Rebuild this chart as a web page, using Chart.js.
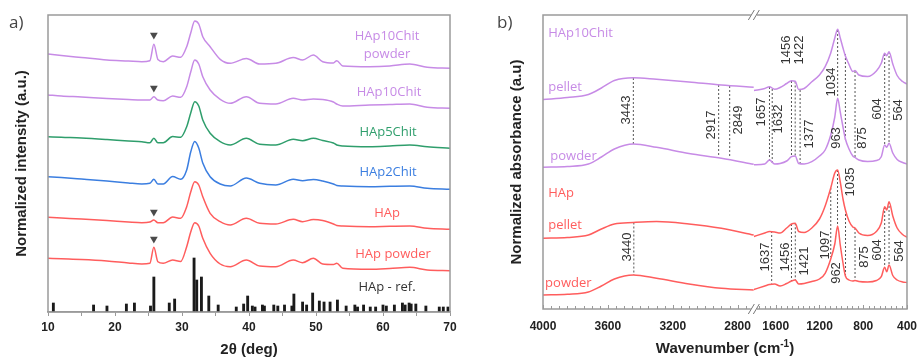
<!DOCTYPE html>
<html>
<head>
<meta charset="utf-8">
<script src="https://cdn.jsdelivr.net/npm/chart.js@4.4.1/dist/chart.umd.min.js"></script>
<style>
  html, body { margin: 0; padding: 0; background: #fff; }
  body { width: 919px; height: 359px; position: relative; overflow: hidden; }
  .panel { position: absolute; top: 0; height: 359px; }
  #xrd-wrap { left: 0; width: 470px; }
  #ftir-wrap { left: 460px; width: 459px; }
  .tag { position: absolute; font-family: 'Open Sans', sans-serif; font-size: 17px; line-height: 20px; color: #444; }
</style>
</head>
<body>
<div class="panel" id="xrd-wrap"><canvas id="xrd"></canvas></div>
<div class="panel" id="ftir-wrap"><canvas id="ftir"></canvas></div>
<div class="tag" style="left:9px; top:12px;">a)</div>
<div class="tag" style="left:497px; top:12px;">b)</div>
<script>
// ---- XRD patterns (panel a), stacked with offsets, a.u. ----
var twoTheta = [10, 12, 15, 18.8, 22, 24, 25.2, 25.8, 26.4, 27.2, 28.6, 29.8, 30.7, 31.3, 31.9, 32.5, 33.1, 34.2, 35.7, 37.2,
                39.6, 41.6, 44, 46.6, 48, 49.6, 51, 52.6, 53.1, 54, 58, 61, 64, 66.6, 70];
var xrdChit10Powder = [258, 256.5, 254.5, 252, 251, 250.3, 251.3, 267.7, 252.5, 250.3, 256, 254.7, 265.3, 279, 291, 288, 275.3, 265.3, 252.7, 248.7,
                       253.5, 248, 248.7, 254.5, 252, 257, 250.3, 249, 251.3, 246, 245.3, 246, 248, 244.7, 243.7];
var xrdChit10 = [217, 216, 215, 213.5, 212.5, 212, 212, 215.3, 212, 211.3, 216, 214.7, 225.3, 240, 252, 248, 235.3, 222, 212.7, 208.7,
                 215.3, 208.7, 208, 213.7, 212, 213, 212.5, 210, 208, 206, 207, 207.5, 208, 204.7, 203.7];
var xrdChit5 = [175.3, 174.7, 174, 172.5, 171, 170.3, 169.3, 173.7, 169.3, 169.3, 175.5, 174.7, 185.3, 199, 210.3, 206, 192, 178.7, 170.3, 167,
                173.7, 167.7, 167, 172.7, 171.3, 173.7, 171.5, 169, 167, 166, 165.3, 166, 167, 165.3, 163.7];
var xrdChit2 = [135.3, 134.5, 133, 131, 129, 128, 128.7, 132.7, 128, 128, 135.5, 132.7, 142, 160, 170.5, 164, 149, 135.3, 128, 126,
                134, 128.7, 127, 132.7, 131.3, 132.5, 131, 128, 126.5, 126, 125.3, 125.7, 126, 123.7, 122.7];
var xrdHap = [94.7, 94, 93, 91.5, 90, 89.3, 90, 92, 89.3, 89.3, 95, 93.7, 105.3, 120, 130.3, 127, 115.3, 98.7, 90.3, 87,
              93.7, 88.7, 88, 92.7, 90.3, 92.5, 91.5, 88, 86.5, 86, 85.3, 85.7, 86, 83.7, 82.7];
var xrdHapPowder = [53.7, 53.2, 52.5, 51, 49, 48, 48.7, 64.7, 50.3, 48.7, 52, 50.5, 65.3, 80, 89.3, 86, 73.7, 58.7, 48, 45.3,
                    52, 46, 45.3, 52, 49.3, 53.7, 48, 47.5, 48.7, 43.7, 42.7, 43.5, 44.7, 42, 41.3];

// reference HAp pattern (stick positions and heights)
var refPeaks2Theta = [10.8, 16.8, 18.8, 21.7, 22.9, 25.3, 25.8, 28.1, 28.9, 31.8, 32.2, 32.9, 34.0, 35.4, 38.1, 39.2, 39.8, 40.5, 40.9, 42.0,
                      42.3, 43.7, 44.3, 45.3, 46.4, 46.7, 48.0, 48.6, 49.5, 50.5, 51.2, 52.1, 53.2, 54.5, 55.8, 56.2, 57.1, 58.1, 58.9, 60.0,
                      60.5, 61.7, 62.9, 63.3, 63.9, 64.2, 64.9, 66.4, 68.4, 69.0, 69.7];
var refPeakHeights = [9, 7, 6, 8, 9, 6, 35, 9, 13, 54, 32, 35, 16, 7, 5, 8, 16, 6, 5, 7,
                      6, 7, 6, 7, 6, 18, 10, 7, 19, 11, 10, 10, 12, 6, 7, 5, 7, 5, 5, 7,
                      6, 7, 9, 7, 9, 8, 8, 6, 5, 5, 5];

// calcite-type reflection markers
var markTwoTheta = [25.8, 25.8, 25.8, 25.8];
var markLevels = [277, 224, 100, 73];
var twoThetaTicks = [10, 20, 30, 40, 50, 60, 70];

// ---- FTIR spectra (panel b), broken wavenumber axis ----
var wnLeft = [4000, 3850, 3720, 3640, 3560, 3443, 3300, 3100, 2900, 2700];
var chitPelletL = [209.5, 211.5, 214.5, 221, 228.5, 231.3, 229.7, 227, 224, 221.7];
var chitPowderL = [141.7, 142.5, 145, 152, 160, 165, 161.7, 155.5, 150.7, 144.7];
var hapPelletL = [70.7, 71.5, 74, 80, 85, 86.5, 87.5, 85, 80.7, 74];
var hapPowderL = [14, 14.7, 17, 23, 30, 34, 30.7, 25, 20.7, 19];

var wnRight = [1800, 1700, 1657, 1610, 1560, 1500, 1456, 1422, 1390, 1340, 1270, 1200, 1148, 1097, 1060, 1034, 1010, 985, 963, 930,
               895, 875, 840, 760, 680, 635, 604, 585, 564, 530, 490, 440, 400];
var chitPelletR = [218.5, 220.5, 222.3, 219.7, 221.5, 225.5, 228.3, 227.7, 219.5, 220.5, 227.3, 234, 242.3, 256, 271, 279.7, 271, 261, 253, 244.5,
                   237.5, 238.5, 234, 232.5, 238, 245.7, 255.7, 253.3, 257.3, 245, 233.5, 227.5, 225];
var chitPowderR = [144.3, 145, 149, 145, 145.5, 148, 152.3, 153, 145.5, 145, 147.3, 153, 159, 174, 192, 210.7, 197, 182, 170, 160,
                   153, 151.5, 149, 147.5, 148.5, 152.3, 164, 161.7, 165.7, 156, 149.5, 146.5, 145];
var hapPelletR = [72.5, 76, 77.5, 77, 76, 81, 85, 85.7, 77.5, 76.5, 81, 90, 103, 121, 136, 139, 127, 110, 99, 88,
                  82, 81, 76, 73.5, 77.5, 86, 102.3, 99, 107.3, 93, 81, 74.5, 71.7];
var hapPowderR = [19.5, 23, 24.5, 25, 23, 25.5, 28, 29, 25, 25.5, 27.5, 30, 35.7, 50, 65, 83, 64, 46, 33, 29,
                  28, 28.5, 27.5, 27, 28.5, 32.3, 41.7, 37.3, 44, 33.5, 29, 27, 26.5];

// band assignments: wavenumber, dashed guide from pellet trace down to powder trace
var chitBands = [3443, 2917, 2849, 1657, 1632, 1456, 1422, 1377, 1034, 963, 875, 604, 564];
var chitBandTop = [231, 224, 223, 222, 220, 228, 227.5, 219, 279, 255, 238, 255, 257];
var chitBandBottom = [165, 152, 151, 147, 146, 152, 153, 145.5, 210.7, 168, 151, 164, 165.5];
var hapBands = [3440, 1637, 1456, 1421, 1097, 1035, 962, 875, 604, 564];
var hapBandTop = [86.5, 78, 85, 85.7, 121, 139, 99, 81, 102, 107];
var hapBandBottom = [34, 25.5, 28, 29, 52, 83, 33, 28.5, 41.7, 44];
var wnTicksLeft = [4000, 3600, 3200, 2800];
var wnTicksRight = [1600, 1200, 800, 400];

// ---- styling ----
var violet = '#c78be6', green = '#2f9e6c', blue = '#3b7ee0', red = '#ff5d5d';
var ink = '#222222', frameGrey = '#9a9a9a', guideGrey = '#555555';
var numFont = "'Liberation Sans', Arial, sans-serif";
var tagFont = "'Open Sans', sans-serif";

// where band numbers sit: label height (a.u.) and horizontal nudge (px)
var chitLabelY = [199, 184, 189, 197, 190, 259, 259, 175, 227, 171, 171, 200, 199];
var chitLabelDx = [-7, -7, 9, -8, 6, -5, 4, 9, -6, -9, 7, -7, 9];
var hapLabelY = [62, 52, 52, 48, 64, 127, 36, 52, 59, 58];
var hapLabelDx = [-6, -6, -6, 9, -5, 13, -9, 9, -7, 10];

function pts(xs, ys) {
  return xs.map(function (x, i) { return { x: x, y: ys[i] }; });
}

function trace(data, color, xAxisID) {
  return {
    type: 'line', data: data, xAxisID: xAxisID || 'x', yAxisID: 'y',
    borderColor: color, borderWidth: 1.5, pointRadius: 0,
    cubicInterpolationMode: 'monotone', fill: false
  };
}

// box around the plot area
var framePlugin = {
  id: 'frame',
  afterDatasetsDraw: function (chart) {
    var a = chart.chartArea, ctx = chart.ctx;
    ctx.save();
    ctx.strokeStyle = frameGrey;
    ctx.lineWidth = 1.5;
    ctx.strokeRect(a.left, a.top, a.right - a.left, a.bottom - a.top);
    ctx.restore();
  }
};

// ---------------- panel a ----------------
var xrdSeries = [
  { values: xrdChit10Powder, color: violet },
  { values: xrdChit10, color: violet },
  { values: xrdChit5, color: green },
  { values: xrdChit2, color: blue },
  { values: xrdHap, color: red },
  { values: xrdHapPowder, color: red }
];

var xrdTags = [
  { text: 'HAp10Chit', x: 60.6, y: 276, color: violet },
  { text: 'powder', x: 60.6, y: 258, color: violet },
  { text: 'HAp10Chit', x: 60.9, y: 220, color: violet },
  { text: 'HAp5Chit', x: 60.75, y: 180, color: green },
  { text: 'HAp2Chit', x: 60.75, y: 140, color: blue },
  { text: 'HAp', x: 60.6, y: 99, color: red },
  { text: 'HAp powder', x: 61.5, y: 58, color: red },
  { text: 'HAp - ref.', x: 60.6, y: 25, color: '#333' }
];

var xrdDatasets = xrdSeries.map(function (s) { return trace(pts(twoTheta, s.values), s.color); });
xrdDatasets.push({
  type: 'bar', data: pts(refPeaks2Theta, refPeakHeights),
  backgroundColor: '#1a1a1a', barThickness: 2.2, grouped: false
});
xrdDatasets.push({
  type: 'line', data: pts(markTwoTheta, markLevels), showLine: false,
  pointStyle: 'triangle', rotation: 180, pointRadius: 4.5,
  pointBackgroundColor: '#4a4a4a', pointBorderColor: '#4a4a4a', pointBorderWidth: 0
});

var xrdTagPlugin = {
  id: 'xrdTags',
  afterDatasetsDraw: function (chart) {
    var ctx = chart.ctx, sx = chart.scales.x, sy = chart.scales.y;
    ctx.save();
    ctx.font = '13px ' + tagFont;
    ctx.textAlign = 'center';
    ctx.textBaseline = 'middle';
    xrdTags.forEach(function (t) {
      ctx.fillStyle = t.color;
      ctx.fillText(t.text, sx.getPixelForValue(t.x), sy.getPixelForValue(t.y));
    });
    ctx.restore();
  }
};

new Chart(document.getElementById('xrd'), {
  type: 'line',
  data: { datasets: xrdDatasets },
  options: {
    animation: false, responsive: true, maintainAspectRatio: false, events: [],
    layout: { padding: { left: 0, top: 15, right: 20, bottom: 0 } },
    plugins: { legend: { display: false }, tooltip: { enabled: false } },
    scales: {
      x: {
        type: 'linear', min: 10, max: 70, offset: false,
        grid: { display: true, drawOnChartArea: false, tickLength: 4, color: frameGrey, offset: false },
        border: { display: true, color: frameGrey, width: 1.5 },
        ticks: {
          stepSize: 5, autoSkip: false, maxRotation: 0, padding: 4, color: ink,
          font: { family: numFont, size: 12, weight: 'bold' },
          callback: function (v) { return twoThetaTicks.indexOf(v) >= 0 ? v : ''; }
        },
        title: { display: true, text: '2θ (deg)', color: ink, padding: 0,
                 font: { family: numFont, size: 15, weight: 'bold' } },
        afterFit: function (s) { s.height = 47; }
      },
      y: {
        type: 'linear', min: 0, max: 297,
        grid: { display: false }, border: { display: false }, ticks: { display: false },
        title: { display: true, text: 'Normalized intensity (a.u.)', color: ink,
                 padding: { top: 13, bottom: 0 }, font: { family: numFont, size: 15, weight: 'bold' } },
        afterFit: function (s) { s.width = 48; }
      }
    }
  },
  plugins: [framePlugin, xrdTagPlugin]
});

// ---------------- panel b ----------------
var ftirSeries = [
  { left: chitPelletL, right: chitPelletR, color: violet },
  { left: chitPowderL, right: chitPowderR, color: violet },
  { left: hapPelletL, right: hapPelletR, color: red },
  { left: hapPowderL, right: hapPowderR, color: red }
];

var ftirTags = [
  { text: 'HAp10Chit', x: 3968, y: 276, color: violet },
  { text: 'pellet', x: 3968, y: 222, color: violet },
  { text: 'powder', x: 3955, y: 153, color: violet },
  { text: 'HAp', x: 3968, y: 116, color: red },
  { text: 'pellet', x: 3968, y: 84, color: red },
  { text: 'powder', x: 3987, y: 26, color: red }
];

function axisFor(w) { return w > 2200 ? 'xl' : 'xr'; }

var ftirDatasets = [];
ftirSeries.forEach(function (s) {
  ftirDatasets.push(trace(pts(wnLeft, s.left), s.color, 'xl'));
  ftirDatasets.push(trace(pts(wnRight, s.right), s.color, 'xr'));
});

function addGuides(bands, tops, bottoms) {
  bands.forEach(function (w, i) {
    ftirDatasets.push({
      type: 'line', data: [{ x: w, y: tops[i] }, { x: w, y: bottoms[i] }],
      xAxisID: axisFor(w), yAxisID: 'y',
      borderColor: guideGrey, borderWidth: 1, borderDash: [2, 2], pointRadius: 0
    });
  });
}
addGuides(chitBands, chitBandTop, chitBandBottom);
addGuides(hapBands, hapBandTop, hapBandBottom);

var ftirDecor = {
  id: 'ftirDecor',
  afterDatasetsDraw: function (chart) {
    var ctx = chart.ctx, a = chart.chartArea, sy = chart.scales.y;
    var xl = chart.scales.xl, xr = chart.scales.xr;
    ctx.save();

    // inward tick marks on the wavenumber axis
    ctx.strokeStyle = frameGrey;
    ctx.lineWidth = 1;
    [[xl, wnTicksLeft], [xr, wnTicksRight]].forEach(function (pair) {
      var sc = pair[0];
      sc.ticks.forEach(function (t) {
        if (t.value === sc.min && sc === xl) return;
        if (t.value === sc.max && sc === xr) return;
        var px = Math.round(sc.getPixelForValue(t.value)) + 0.5;
        var len = pair[1].indexOf(t.value) >= 0 ? 4 : 3;
        ctx.beginPath();
        ctx.moveTo(px, a.bottom);
        ctx.lineTo(px, a.bottom - len);
        ctx.stroke();
      });
    });

    // axis break
    var bx = xl.right;
    ctx.fillStyle = '#fff';
    ctx.fillRect(bx - 3, a.top - 2, 6, 4);
    ctx.fillRect(bx - 3, a.bottom - 2, 6, 4);
    ctx.strokeStyle = '#777';
    ctx.lineWidth = 1;
    [a.top, a.bottom].forEach(function (y0) {
      [-2.5, 2.5].forEach(function (off) {
        ctx.beginPath();
        ctx.moveTo(bx + off - 3, y0 + 5);
        ctx.lineTo(bx + off + 3, y0 - 5);
        ctx.stroke();
      });
    });

    // band numbers
    ctx.fillStyle = '#333';
    ctx.font = '13px ' + numFont;
    ctx.textAlign = 'center';
    ctx.textBaseline = 'middle';
    function bandLabels(bands, ys, dxs) {
      bands.forEach(function (w, i) {
        var sc = chart.scales[axisFor(w)];
        ctx.save();
        ctx.translate(sc.getPixelForValue(w) + dxs[i], sy.getPixelForValue(ys[i]));
        ctx.rotate(-Math.PI / 2);
        ctx.fillText(String(w), 0, 0);
        ctx.restore();
      });
    }
    bandLabels(chitBands, chitLabelY, chitLabelDx);
    bandLabels(hapBands, hapLabelY, hapLabelDx);

    // sample names
    ctx.font = '13px ' + tagFont;
    ctx.textAlign = 'left';
    ftirTags.forEach(function (t) {
      ctx.fillStyle = t.color;
      ctx.fillText(t.text, xl.getPixelForValue(t.x), sy.getPixelForValue(t.y));
    });

    // axis title with superscript
    var cx = (a.left + a.right) / 2, ty = 349;
    var main = 'Wavenumber (cm', sup = '-1', tail = ')';
    ctx.fillStyle = ink;
    ctx.font = 'bold 15px ' + numFont;
    var wMain = ctx.measureText(main).width, wTail = ctx.measureText(tail).width;
    ctx.font = 'bold 10px ' + numFont;
    var wSup = ctx.measureText(sup).width;
    var x0 = cx - (wMain + wSup + wTail) / 2;
    ctx.font = 'bold 15px ' + numFont;
    ctx.fillText(main, x0, ty);
    ctx.fillText(tail, x0 + wMain + wSup, ty);
    ctx.font = 'bold 10px ' + numFont;
    ctx.fillText(sup, x0 + wMain, ty - 5);
    ctx.restore();
  }
};

function wnAxis(min, max, weight, majors) {
  return {
    type: 'linear', position: 'bottom', axis: 'x', stack: 'wn', stackWeight: weight,
    min: min, max: max, reverse: true, offset: false,
    grid: { display: false }, border: { display: false },
    ticks: {
      stepSize: 50, autoSkip: false, maxRotation: 0, padding: 2, color: ink,
      font: { family: numFont, size: 12, weight: 'bold' },
      callback: function (v) { return majors.indexOf(v) >= 0 ? v : ''; }
    },
    afterFit: function (s) { s.height = 50; }
  };
}

new Chart(document.getElementById('ftir'), {
  type: 'line',
  data: { datasets: ftirDatasets },
  options: {
    animation: false, responsive: true, maintainAspectRatio: false, events: [],
    layout: { padding: { left: 40, top: 15, right: 9, bottom: 0 } },
    plugins: { legend: { display: false }, tooltip: { enabled: false } },
    scales: {
      xl: wnAxis(2700, 4000, 212, wnTicksLeft),
      xr: wnAxis(400, 1800, 154, wnTicksRight),
      y: {
        type: 'linear', min: 0, max: 294,
        grid: { display: false }, border: { display: false }, ticks: { display: false },
        title: { display: true, text: 'Normalized absorbance (a.u)', color: ink,
                 padding: { top: 8, bottom: 0 }, font: { family: numFont, size: 15, weight: 'bold' } },
        afterFit: function (s) { s.width = 43; }
      }
    }
  },
  plugins: [framePlugin, ftirDecor]
});
</script>
</body>
</html>
